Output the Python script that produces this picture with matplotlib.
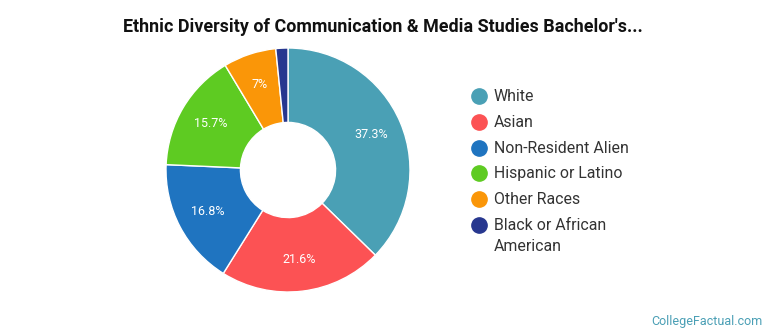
import matplotlib
matplotlib.use("Agg")
import matplotlib.pyplot as plt

plt.rcParams['font.family'] = ['Roboto', 'DejaVu Sans']

categories = ["White", "Asian", "Non-Resident Alien", "Hispanic or Latino", "Other Races", "Black or African\nAmerican"]
values = [37.3, 21.6, 16.8, 15.7, 7.0, 1.6]
labels = ["37.3%", "21.6%", "16.8%", "15.7%", "7%", ""]
colors = ["#4aa0b5", "#fc5254", "#1f74c0", "#5ecb22", "#fa9608", "#27378f"]

W, H = 770, 335
fig = plt.figure(figsize=(W / 100, H / 100), dpi=100)

cx, cy, r = 288, 170, 122
ax = fig.add_axes([(cx - r) / W, (H - cy - r) / H, 2 * r / W, 2 * r / H])
wedges, texts = ax.pie(values, colors=colors, startangle=90, counterclock=False,
                       radius=1.0, wedgeprops=dict(width=0.61, edgecolor="white", linewidth=1.0),
                       labels=labels, labeldistance=0.74,
                       textprops=dict(color="white", fontsize=9))
for t in texts:
    t.set_ha("center"); t.set_va("center")
ax.set_xlim(-1, 1); ax.set_ylim(-1, 1)
ax.set_aspect("equal")
ax.axis("off")

fig.text(383 / W, 1 - 27 / H, "Ethnic Diversity of Communication & Media Studies Bachelor's...",
         ha="center", va="center", fontsize=12.9, fontweight="bold", color="#111111")

# manual legend (marker aligned with first text line, as in the reference)
lax = fig.add_axes([0, 0, 1, 1], facecolor="none")
lax.set_xlim(0, W); lax.set_ylim(H, 0)
lax.axis("off")
y0, dy = 96, 25.8
for i, (cat, c) in enumerate(zip(categories, colors)):
    y = y0 + dy * i
    lax.plot([479], [y], marker="o", markersize=11, color=c, linestyle="")
    lax.text(494, y - 7, cat, ha="left", va="top", fontsize=11.4, color="#333333",
             linespacing=1.5)

fig.text(763 / W, 1 - 321 / H, "CollegeFactual.com", ha="right", va="center",
         fontsize=9, color="#4a9fb5")

fig.savefig("out.png", dpi=100, facecolor="white")
